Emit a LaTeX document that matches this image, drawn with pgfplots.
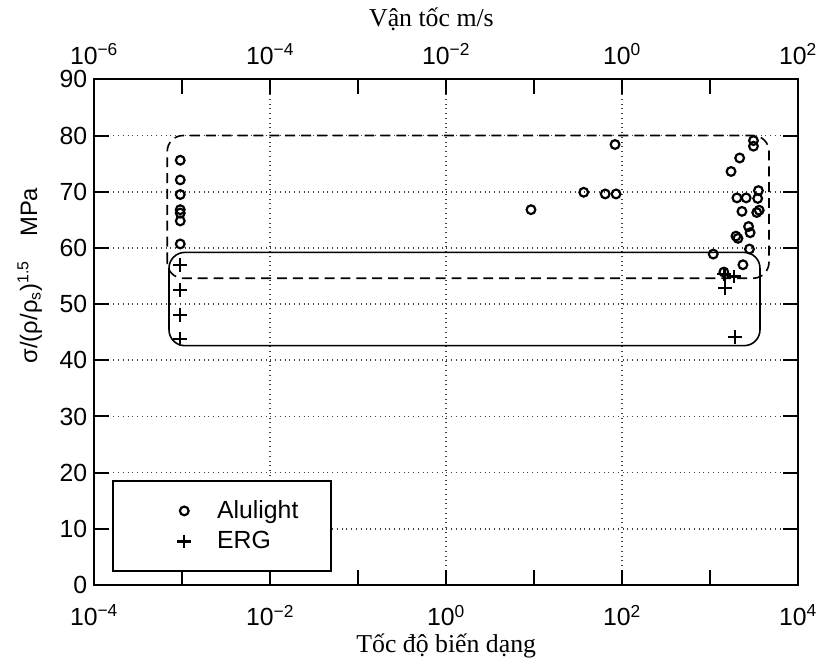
\documentclass[border=0pt]{standalone}
\usepackage{fontspec}
\setmainfont{Liberation Serif}
\setsansfont{Liberation Sans}
\usepackage{pgfplots}
\pgfplotsset{compat=1.18}
\pgfplotsset{mylegend/.style={legend image code/.code={\path (0pt,-3pt) (43.5pt,3pt); \draw[mark repeat=2,mark phase=2,##1] plot coordinates {(0pt,0pt) (29.5pt,0pt) (43.5pt,0pt)};}}}
\begin{document}
\begin{tikzpicture}
\begin{axis}[name=main,
  scale only axis, width=355pt, height=255pt,
  xmode=log, xmin=1e-4, xmax=1e4, ymin=0, ymax=90,
  xtick={1e-4,1e-2,1,1e2,1e4},
  xticklabels={10\textsuperscript{−4},10\textsuperscript{−2},10\textsuperscript{0},10\textsuperscript{2},10\textsuperscript{4}},
  minor xtick={1e-3,1e-1,1e1,1e3},
  xtick pos=bottom,
  ytick={0,10,...,90},
  yticklabels={0,10,20,30,40,50,60,70,80,90},
  tick align=inside,
  major tick length=7.5pt, minor tick length=7.5pt,
  every tick/.style={line width=1pt, black},
  axis line style={line width=1pt},
  grid=major,
  major grid style={dotted, line width=0.8pt, black!75},
  ticklabel style={font=\sffamily\fontsize{12.5}{14}\selectfont},
  xticklabel style={yshift=-6.5pt},
  xlabel={Tốc độ biến dạng},
  xlabel style={font=\fontsize{13}{15}\selectfont, at={(axis description cs:0.5,-0.12)}, anchor=center},
  ylabel={σ/(ρ/ρ\textsubscript{s})\textsuperscript{1.5}\quad MPa},
  ylabel style={font=\sffamily\fontsize{12}{14}\selectfont, at={(axis description cs:-0.0915,0.612)}, anchor=center},
  legend style={at={(0.025,0.025)}, anchor=south west, draw=black, line width=1pt,
    inner xsep=6pt, inner ysep=8pt, font=\sffamily\fontsize{12.5}{14}\selectfont, row sep=1pt},
  legend cell align=left,
]
\addplot[only marks, mark=o, mark size=2.2pt, line width=1.1pt, black, mylegend] coordinates {
 (0.00095,75.6) (0.00095,72.1) (0.00095,69.5) (0.00095,66.8) (0.00095,66.2) (0.00095,64.8) (0.00095,60.7)
 (9.18,66.8) (36.5,69.9) (64,69.6) (85,69.6) (82.8,78.4)
 (3097,79.1) (3097,78.1) (2158,76.0) (1722,73.6) (3524,70.2) (2009,68.9) (2557,68.9) (3459,68.8)
 (2291,66.5) (3373,66.3) (3600,66.7) (2723,63.8) (2838,62.7) (1959,62.1) (2064,61.7) (2787,59.8)
 (1081,58.9) (2350,57.0) (1426,55.7)
};
\addlegendentry{Alulight\hspace*{8.5pt}}
\addplot[only marks, mark=+, mark size=3.5pt, line width=1.1pt, black, mylegend] coordinates {
 (0.00095,57.0) (0.00095,52.5) (0.00095,48.1) (0.00095,43.8)
 (1875,54.9) (1449,55.4) (1459,52.8) (1923,44.1)
};
\addlegendentry{ERG}
\draw[line width=0.8pt, rounded corners=8pt] (axis cs:7.08e-4,42.6) rectangle (axis cs:3673,59.2);
\draw[line width=0.8pt, dash pattern=on 5pt off 3pt, rounded corners=8pt] (axis cs:6.76e-4,54.6) rectangle (axis cs:4645,80);
\end{axis}
\begin{axis}[
  scale only axis, width=355pt, height=255pt,
  xmode=log, xmin=1e-6, xmax=1e2, ymin=0, ymax=90,
  axis x line*=top, axis y line=none,
  xtick={1e-6,1e-4,1e-2,1,1e2},
  xticklabels={10\textsuperscript{−6},10\textsuperscript{−4},10\textsuperscript{−2},10\textsuperscript{0},10\textsuperscript{2}},
  minor xtick={1e-5,1e-3,1e-1,1e1},
  tick align=inside,
  major tick length=7.5pt, minor tick length=7.5pt,
  every tick/.style={line width=1pt, black},
  axis line style={line width=1pt},
  ticklabel style={font=\sffamily\fontsize{12.5}{14}\selectfont},
  xticklabel style={yshift=4pt},
  xlabel={Vận tốc m/s},
  xlabel style={font=\fontsize{13}{15}\selectfont, at={(axis description cs:0.479,1.118)}, anchor=center},
]
\end{axis}
\path[use as bounding box] ([xshift=-47.5pt,yshift=-35pt]main.south west) rectangle ([xshift=9.5pt,yshift=40pt]main.north east);
\end{tikzpicture}
\end{document}
